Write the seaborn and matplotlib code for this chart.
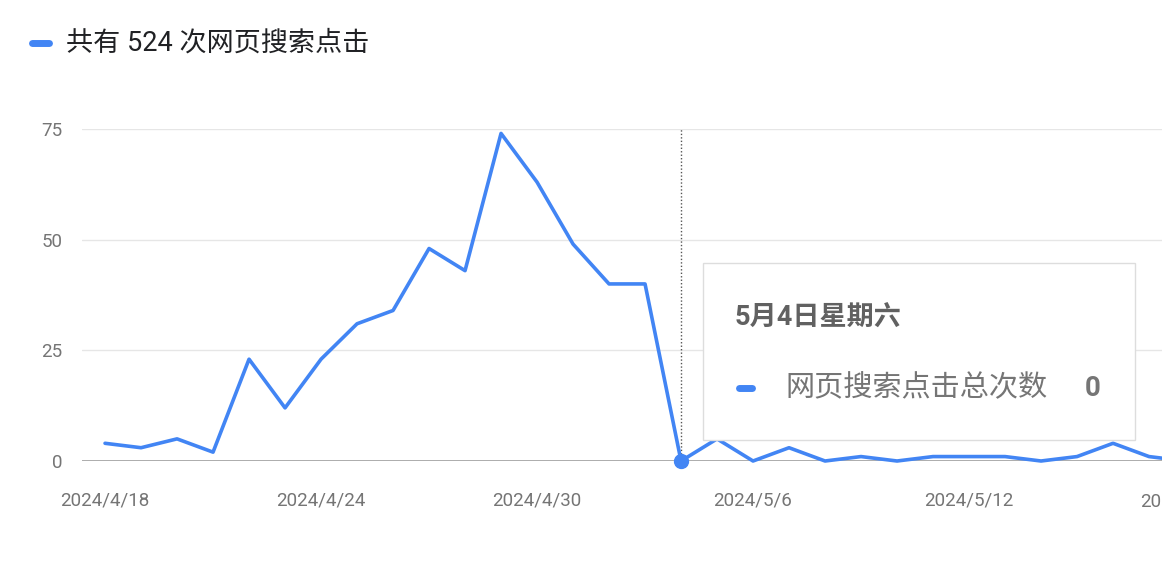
import matplotlib
matplotlib.use("Agg")
import matplotlib.pyplot as plt
import seaborn as sns
import pandas as pd
from matplotlib.patches import FancyBboxPatch

days = list(range(31))
clicks = [4, 3, 5, 2, 23, 12, 23, 31, 34, 48, 43, 74, 63, 49, 40, 40,
          0, 5, 0, 3, 0, 1, 0, 1, 1, 1, 0, 1, 4, 1, 0]
tick_pos = [0, 6, 12, 18, 24]
tick_labels = ["2024/4/18", "2024/4/24", "2024/4/30", "2024/5/6", "2024/5/12"]
yticks = [0, 25, 50, 75]
hover_idx = 16

sns.set_style("white")
plt.rcParams['font.family'] = ['Roboto', 'Noto Sans CJK SC', 'DejaVu Sans']
blue = "#4285F4"
W, H = 1162, 570
fig = plt.figure(figsize=(W/100, H/100), dpi=100)
ax = fig.add_axes([82/W, 1-461/H, 1-82/W, (461-129)/H])
df = pd.DataFrame({"d": days, "c": clicks})
sns.lineplot(data=df, x="d", y="c", ax=ax, color=blue, lw=2.6, clip_on=False, zorder=3)
ax.set_xlim(-0.64, 29.36)
ax.set_ylim(0, 75)
for y in yticks[1:]:
    ax.axhline(y, color="#e6e6e6", lw=1, zorder=0)
ax.axhline(0, color="#9e9e9e", lw=1.2, zorder=1)
ax.axvline(hover_idx, color="#555555", lw=1, ls=(0, (1, 1.5)), zorder=2)
ax.plot([hover_idx], [clicks[hover_idx]], 'o', color=blue, ms=10, clip_on=False, zorder=5)
for s in ax.spines.values():
    s.set_visible(False)
ax.set_xticks(tick_pos)
ax.set_xticklabels(tick_labels)
ax.set_yticks(yticks)
ax.tick_params(length=0, labelsize=13.5, colors="#757575")
ax.tick_params(axis='x', pad=22)
ax.tick_params(axis='y', pad=14)
ax.set_xlabel(""); ax.set_ylabel("")
fig.text((105 + 30*36)/W, 1-501/H, "2024/5/18", ha="center", va="center",
         fontsize=13.5, color="#757575")

# legend
fig.add_artist(plt.Line2D([32/W, 49/W], [1-43/H]*2, color=blue, lw=5, solid_capstyle="round"))
fig.text(66/W, 1-43/H, "共有 524 次网页搜索点击", fontsize=19.5, color="#202124", va="center")

# tooltip
box = FancyBboxPatch((703/W, 1-440/H), (1135-703)/W, (440-263)/H, boxstyle="square,pad=0",
                     transform=fig.transFigure, fc="white", ec="#dddddd", lw=1, zorder=10)
fig.add_artist(box)
fig.text(735/W, 1-318/H, "5月4日星期六", fontsize=19.5, fontweight="bold", color="#616161", va="center", zorder=11)
fig.add_artist(plt.Line2D([739/W, 752/W], [1-388/H]*2, color=blue, lw=5, solid_capstyle="round", zorder=11))
fig.text(785/W, 1-388/H, "网页搜索点击总次数", fontsize=21, color="#757575", va="center", zorder=11)
fig.text(1101/W, 1-388/H, "0", fontsize=20, fontweight="bold", color="#757575", va="center", ha="right", zorder=11)

fig.savefig("out.png", dpi=100)
